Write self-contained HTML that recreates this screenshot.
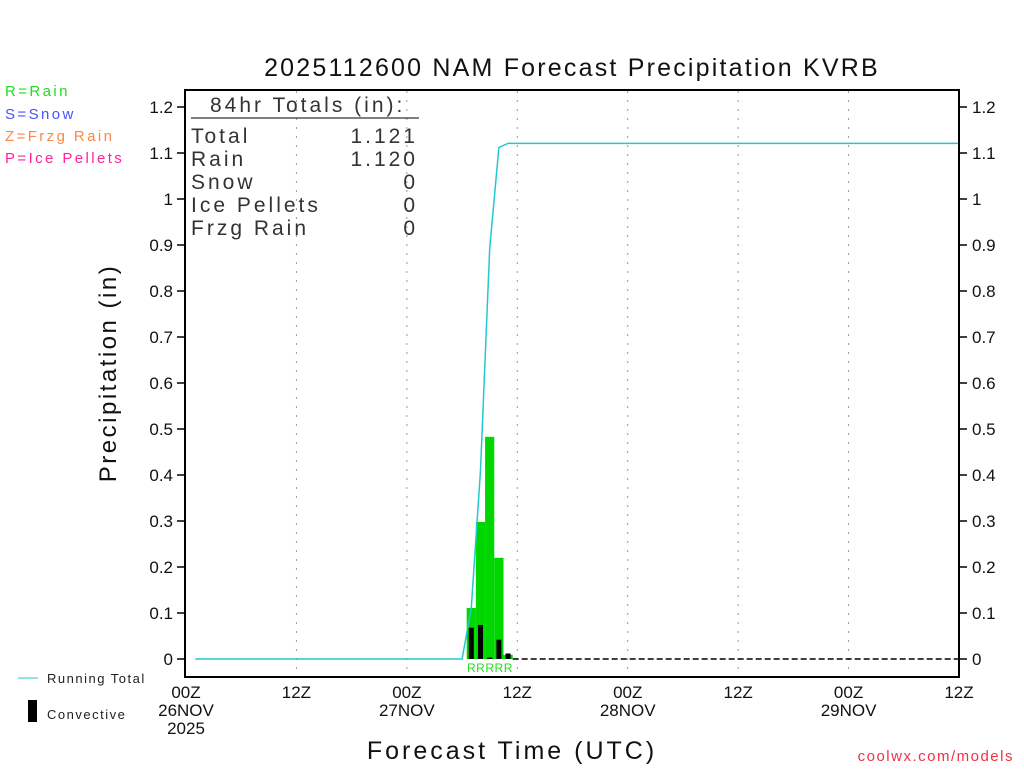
<!DOCTYPE html>
<html><head><meta charset="utf-8"><style>
body{margin:0;background:#fff}
svg text{font-family:"Liberation Sans","DejaVu Sans",sans-serif}
</style></head><body>
<svg id="c" width="1024" height="768" viewBox="0 0 1024 768" xmlns="http://www.w3.org/2000/svg">
<text x="572" y="76" font-size="25" text-anchor="middle" fill="#111" letter-spacing="2.2">2025112600 NAM Forecast Precipitation KVRB</text>
<g font-size="15" letter-spacing="2.4">
<text x="5" y="96" fill="#22dd22">R=Rain</text>
<text x="5" y="119" fill="#4455ff">S=Snow</text>
<text x="5" y="141" fill="#ff8844">Z=Frzg Rain</text>
<text x="5" y="163" fill="#ff2299">P=Ice Pellets</text>
</g>
<g id="grid"></g>
<g id="marks"></g>
<rect x="185" y="90" width="774" height="587" fill="none" stroke="#000" stroke-width="2"/>
<g id="axes" font-size="17" fill="#111"></g>
<g font-size="21" fill="#333" letter-spacing="3">
<text x="210" y="112">84hr Totals (in):</text>
<line x1="191" y1="118" x2="419" y2="118" stroke="#000" stroke-width="1"/>
<text x="191" y="143">Total</text><text x="418" y="143" text-anchor="end">1.121</text>
<text x="191" y="166">Rain</text><text x="418" y="166" text-anchor="end">1.120</text>
<text x="191" y="189">Snow</text><text x="418" y="189" text-anchor="end">0</text>
<text x="191" y="212">Ice Pellets</text><text x="418" y="212" text-anchor="end">0</text>
<text x="191" y="235">Frzg Rain</text><text x="418" y="235" text-anchor="end">0</text>
</g>
<text x="116" y="373" font-size="24" fill="#111" letter-spacing="2.5" text-anchor="middle" transform="rotate(-90 116 373)">Precipitation (in)</text>
<text x="512" y="759" font-size="25" fill="#111" letter-spacing="3" text-anchor="middle">Forecast Time (UTC)</text>
<text x="1014" y="761" font-size="15" fill="#ee3344" text-anchor="end" letter-spacing="1.5">coolwx.com/models</text>
<g font-size="13" fill="#222" letter-spacing="1.5">
<line x1="18" y1="678" x2="38" y2="678" stroke="#22c8d0" stroke-width="1"/>
<text x="47" y="683">Running Total</text>
<rect x="28" y="700" width="9" height="22" fill="#000"/>
<text x="47" y="719">Convective</text>
</g>
</svg>
<script>
const hours=[31,32,33,34,35];
const rainVals=[0.111,0.298,0.483,0.220,0.009];
const convVals=[0.068,0.074,0.003,0.042,0.012];
const yTicks=[0,0.1,0.2,0.3,0.4,0.5,0.6,0.7,0.8,0.9,1,1.1,1.2];
const xTickHours=[0,12,24,36,48,60,72,84];
const xTickLabels=[["00Z","26NOV","2025"],["12Z"],["00Z","27NOV"],["12Z"],["00Z","28NOV"],["12Z"],["00Z","29NOV"],["12Z"]];
const NS="http://www.w3.org/2000/svg";
const x=h=>186+h*(959-186)/84;
const y=v=>659-v*460;
function mk(tag,attrs,parent,txt){const e=document.createElementNS(NS,tag);for(const k in attrs)e.setAttribute(k,attrs[k]);if(txt!=null)e.textContent=txt;parent.appendChild(e);return e;}
const grid=document.getElementById('grid'),marks=document.getElementById('marks'),axes=document.getElementById('axes');
xTickHours.forEach((h,i)=>{
 if(i>0&&i<xTickHours.length-1){const g=mk('line',{x1:x(h),y1:91,x2:x(h),y2:676,stroke:'#999','stroke-width':1,'stroke-dasharray':'2,7'},grid);
 
 }
 xTickLabels[i].forEach((s,j)=>{const t=mk('text',{x:x(h),y:698+j*18,'text-anchor':'middle'},axes,s);
 
 });
});
yTicks.forEach(v=>{
 mk('line',{x1:177,y1:y(v),x2:185,y2:y(v),stroke:'#000','stroke-width':1.5},axes);
 mk('line',{x1:959,y1:y(v),x2:967,y2:y(v),stroke:'#000','stroke-width':1.5},axes);
 const s=String(v);
 const a=mk('text',{x:173,y:y(v)+6,'text-anchor':'end'},axes,s);
 
 
 const b=mk('text',{x:972,y:y(v)+6},axes,s);
 
 
});
const bw=(959-186)/84;
hours.forEach((h,i)=>{
 const r=mk('rect',{x:x(h)-bw/2,y:y(rainVals[i]),width:bw,height:y(0)-y(rainVals[i]),fill:'#00d600'},marks);
 
 
 const c=mk('rect',{x:x(h)-2.5,y:y(convVals[i]),width:5,height:y(0)-y(convVals[i]),fill:'#000'},marks);
 
 
 const t=mk('text',{x:x(h),y:672,'text-anchor':'middle','font-size':12,fill:'#22dd22'},marks,'R');
 
 
});
const zl=mk('line',{x1:x(35.5),y1:y(0),x2:959,y2:y(0),stroke:'#000','stroke-width':1.5,'stroke-dasharray':'6,3'},marks);


let pts=[],cum=0;
for(let h=1;h<=84;h++){const i=hours.indexOf(h);if(i>=0)cum+=rainVals[i];pts.push(x(h)+','+y(cum));}
const pl=mk('polyline',{points:pts.join(' '),fill:'none',stroke:'#22c8d0','stroke-width':1.5},marks);


</script>
</body></html>
